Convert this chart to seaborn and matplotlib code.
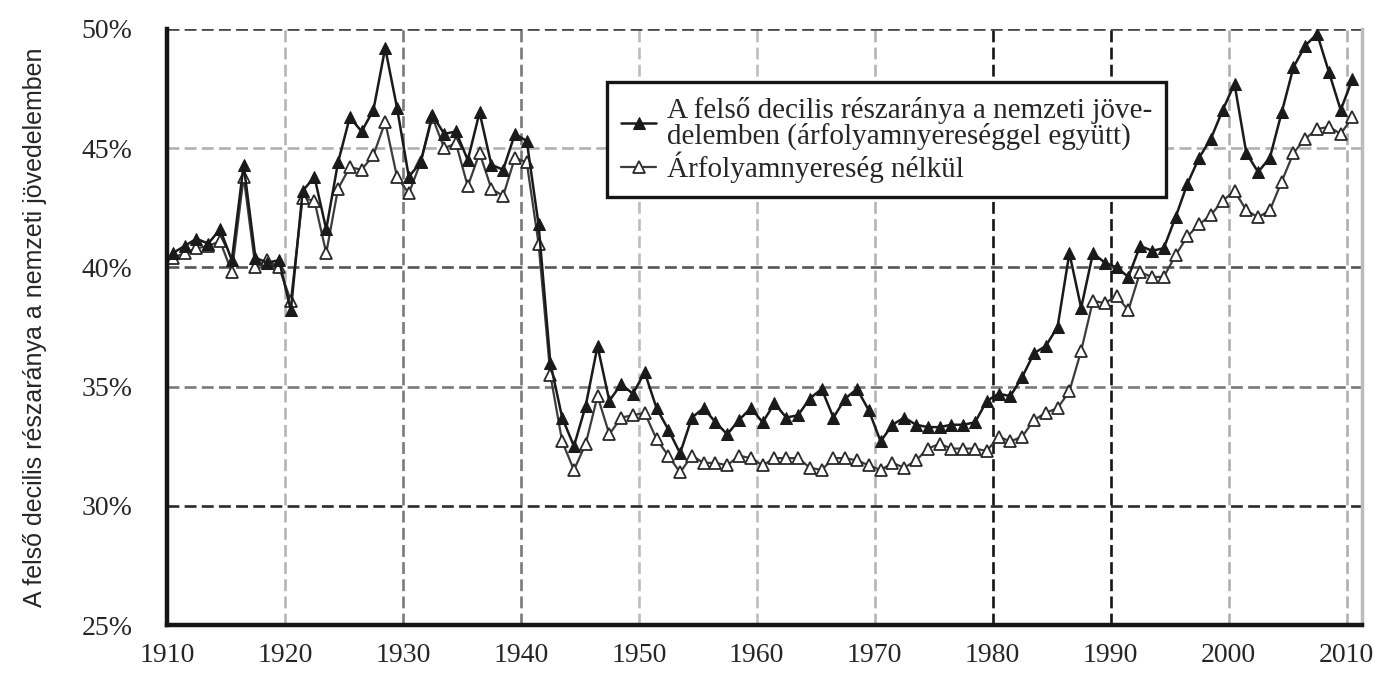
import matplotlib
matplotlib.use("Agg")
import matplotlib.pyplot as plt
from matplotlib.ticker import PercentFormatter
import seaborn as sns
import pandas as pd


YEARS = list(range(1910, 2011))

# top decile share, incl. capital gains (%)
WITH_CAPITAL_GAINS = [
    40.6, 40.9, 41.2, 41.0, 41.6, 40.3, 44.3, 40.4, 40.2, 40.3,
    38.2, 43.2, 43.8, 41.6, 44.4, 46.3, 45.7, 46.6, 49.2, 46.7,
    43.8, 44.4, 46.4, 45.6, 45.7, 44.5, 46.5, 44.3, 44.1, 45.6,
    45.3, 41.8, 36.0, 33.7, 32.5, 34.2, 36.7, 34.4, 35.1, 34.7,
    35.6, 34.1, 33.2, 32.2, 33.7, 34.1, 33.5, 33.0, 33.6, 34.1,
    33.5, 34.3, 33.7, 33.8, 34.5, 34.9, 33.7, 34.5, 34.9, 34.0,
    32.7, 33.4, 33.7, 33.4, 33.3, 33.3, 33.4, 33.4, 33.5, 34.4,
    34.7, 34.6, 35.4, 36.4, 36.7, 37.5, 40.6, 38.3, 40.6, 40.2,
    40.0, 39.6, 40.9, 40.7, 40.8, 42.1, 43.5, 44.6, 45.4, 46.6,
    47.7, 44.8, 44.0, 44.6, 46.5, 48.4, 49.3, 49.8, 48.2, 46.6,
    47.9,
]

# top decile share, excl. capital gains (%)
WITHOUT_CAPITAL_GAINS = [
    40.4, 40.6, 40.8, 40.9, 41.1, 39.8, 43.8, 40.0, 40.3, 40.0,
    38.6, 42.9, 42.8, 40.6, 43.3, 44.2, 44.1, 44.7, 46.1, 43.8,
    43.1, 44.4, 46.3, 45.0, 45.2, 43.4, 44.8, 43.3, 43.0, 44.6,
    44.4, 41.0, 35.5, 32.7, 31.5, 32.6, 34.6, 33.0, 33.7, 33.8,
    33.9, 32.8, 32.1, 31.4, 32.1, 31.8, 31.8, 31.7, 32.1, 32.0,
    31.7, 32.0, 32.0, 32.0, 31.6, 31.5, 32.0, 32.0, 31.9, 31.7,
    31.5, 31.8, 31.6, 31.9, 32.4, 32.6, 32.4, 32.4, 32.4, 32.3,
    32.9, 32.7, 32.9, 33.6, 33.9, 34.1, 34.8, 36.5, 38.6, 38.5,
    38.8, 38.2, 39.8, 39.6, 39.6, 40.5, 41.3, 41.8, 42.2, 42.8,
    43.2, 42.4, 42.1, 42.4, 43.6, 44.8, 45.4, 45.8, 45.9, 45.6,
    46.3,
]

DECADES = list(range(1910, 2011, 10))
Y_TICKS = [25, 30, 35, 40, 45, 50]

LABEL_WITH = "A felső decilis részaránya a nemzeti jöve-\ndelemben (árfolyamnyereséggel együtt)"
LABEL_WITHOUT = "Árfolyamnyereség nélkül"
Y_LABEL = "A felső decilis részaránya a nemzeti jövedelemben"

# grid line shades, picked per line to look like the scanned original
X_GRID_COLORS = ["#ffffff", "#b5b5b5", "#7a7a7a", "#7a7a7a", "#bdbdbd",
                 "#bdbdbd", "#b5b5b5", "#151515", "#151515", "#b0b0b0", "#b0b0b0"]
Y_GRID_COLORS = ["#ffffff", "#2a2a2a", "#7a7a7a", "#555555", "#b0b0b0", "#454545"]


def build_frame() -> pd.DataFrame:
    df = pd.DataFrame({
        "Year": YEARS,
        "With": [v / 100 for v in WITH_CAPITAL_GAINS],
        "Without": [v / 100 for v in WITHOUT_CAPITAL_GAINS],
    })
    return df


def plot(df: pd.DataFrame, path: str) -> None:
    sns.set_style("white")
    plt.rcParams["font.family"] = ["Liberation Serif", "DejaVu Serif"]

    fig = plt.figure(figsize=(13.88, 6.74), dpi=100)
    ax = fig.add_axes([0.1203, 0.0727, 0.8609, 0.8843])

    sns.lineplot(data=df, x="Year", y="Without", ax=ax, color="#3c3c3c",
                 linewidth=1.6, marker="^", markersize=8,
                 markerfacecolor="white", markeredgecolor="#2a2a2a",
                 markeredgewidth=1.3, label=LABEL_WITHOUT)
    sns.lineplot(data=df, x="Year", y="With", ax=ax, color="#1a1a1a",
                 linewidth=1.8, marker="^", markersize=8.5,
                 markerfacecolor="#1a1a1a", markeredgecolor="#1a1a1a",
                 label=LABEL_WITH)

    # Excel-style category axis: ticks sit between the yearly points
    ax.set_xlim(1909.5, 2010.8)
    ax.set_xticks([d - 0.5 for d in DECADES])
    ax.set_xticklabels([str(d) for d in DECADES])
    ax.set_ylim(0.25, 0.50)
    ax.set_yticks([t / 100 for t in Y_TICKS])
    ax.yaxis.set_major_formatter(PercentFormatter(1.0, decimals=0))

    ax.set_xlabel("")
    ax.set_ylabel(Y_LABEL, family=["Liberation Sans", "DejaVu Sans"],
                  fontsize=18)
    ax.yaxis.set_label_coords(-0.1, 0.5)

    ax.grid(True, linestyle=(0, (4.5, 2)), linewidth=1.9)
    ax.set_axisbelow(True)
    for line, color in zip(ax.get_xgridlines(), X_GRID_COLORS):
        line.set_color(color)
    for line, color in zip(ax.get_ygridlines(), Y_GRID_COLORS):
        line.set_color(color)

    for side in ["left", "bottom"]:
        ax.spines[side].set_color("#151515")
        ax.spines[side].set_linewidth(3.2)
    ax.spines["top"].set_visible(False)
    ax.spines["right"].set_color("#bcbcbc")
    ax.spines["right"].set_linewidth(2.5)

    ax.tick_params(axis="x", direction="out", length=6, width=2,
                   color="#151515", labelsize=20, pad=7)
    ax.tick_params(axis="y", direction="out", length=5, width=2,
                   color="#aaaaaa", labelsize=20, pad=20)

    handles, labels = ax.get_legend_handles_labels()
    leg = ax.legend(handles[::-1], labels[::-1], loc="upper left",
                    bbox_to_anchor=(0.368, 0.911), fontsize=21,
                    frameon=True, fancybox=False, borderaxespad=0,
                    handlelength=1.2, handletextpad=0.35, labelspacing=0.05,
                    borderpad=0.5, numpoints=1)
    for text in leg.get_texts():
        text.set_linespacing(0.95)
    leg.get_frame().set_edgecolor("#151515")
    leg.get_frame().set_linewidth(2.4)
    leg.get_frame().set_alpha(1)

    fig.savefig(path, dpi=100)


if __name__ == "__main__":
    plot(build_frame(), "out.png")
